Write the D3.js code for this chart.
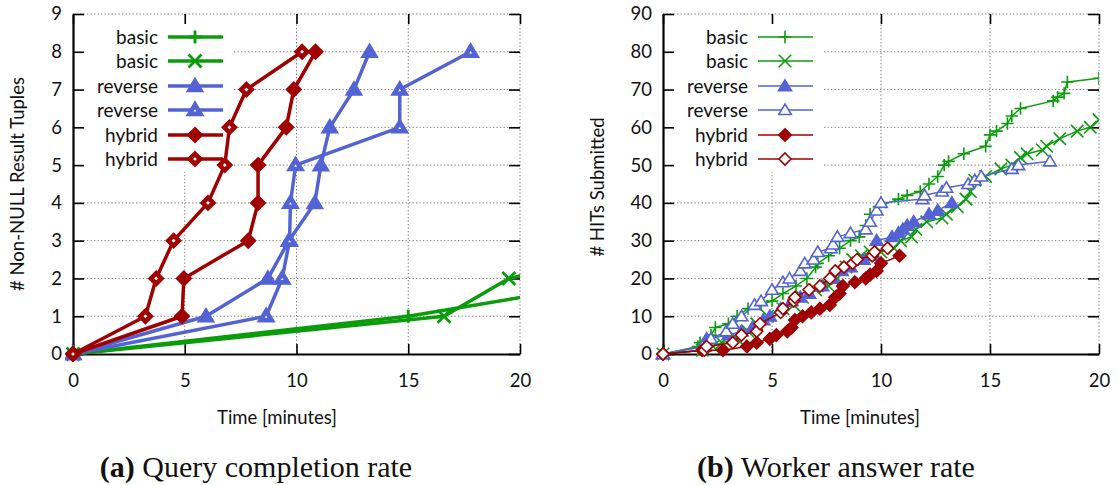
<!DOCTYPE html>
<html>
<head>
<meta charset="utf-8">
<script src="https://cdn.jsdelivr.net/npm/d3@7"></script>
<style>
  body { margin: 0; background: #fff; }
  text { font-family: Lato, "Open Sans", sans-serif; fill: #111; }
</style>
</head>
<body>
<script>
// ---- data: left panel (non-NULL tuples vs minutes) ----
var qBasicPlus   = [[0,0],[15,1],[25.1,2]];
var qBasicCross  = [[0,0],[16.6,1],[19.5,2],[27.2,3]];
var qRevFilled   = [[0,0],[5.95,1],[8.72,2],[9.66,3],[10.82,4],[11.09,5],[11.49,6],[12.57,7],[13.27,8]];
var qRevHollow   = [[0,0],[8.64,1],[9.36,2],[9.69,3],[9.73,4],[9.96,5],[14.62,6],[14.62,7],[17.79,8]];
var qHybFilled   = [[0,0],[4.88,1],[4.96,2],[7.84,3],[8.28,4],[8.28,5],[9.54,6],[9.88,7],[10.85,8]];
var qHybHollow   = [[0,0],[3.24,1],[3.72,2],[4.5,3],[6.04,4],[6.79,5],[7.0,6],[7.76,7],[10.25,8]];

// ---- data: right panel (HITs submitted vs minutes) ----
var hBasicPlus = [[0,0],[1.6,2],[1.7,3],[2.2,5],[2.4,7],[3.0,8],[3.4,10],[3.9,12],[4.5,13],[5.0,14],[5.5,16],[6.1,18],
  [6.6,20],[7.0,23],[7.1,24],[7.6,26],[8.1,28],[8.6,30],[9.0,31],[9.3,34],[9.5,37],[9.9,39],[10.8,41],[11.2,42],[11.8,43],
  [12.2,45],[12.6,47],[12.9,50],[13.1,51],[13.8,53],[14.8,55],[15.0,58],[15.3,59],[15.8,61],[16.0,63],[16.4,65],[17.9,67],
  [18.1,68],[18.4,69],[18.55,72],[20.0,73]];
var hBasicCross = [[0,0],[1.8,1],[2.3,2],[2.7,3],[3.4,4],[3.9,6],[4.3,8],[4.8,10],[5.5,12],[6.0,13],[6.4,15],[7.0,17],
  [7.6,18],[8.0,20],[8.4,23],[8.7,25],[9.1,26],[9.5,27],[10.0,27],[10.6,28],[10.9,30],[11.4,31],[11.6,33],[12.1,35],
  [12.8,36],[13.0,37],[13.5,39],[13.9,41],[14.1,43],[14.3,46],[14.8,47],[15.5,49],[16.0,50],[16.4,52],[16.7,53],[17.4,54],
  [17.6,55],[18.2,57],[19.0,59],[19.6,60],[20.0,62]];
var hRevFilled = [[0,0],[1.9,2],[2.0,4],[3.0,5],[3.6,6],[4.1,7],[4.6,9],[4.9,10],[5.4,12],[5.9,14],[6.3,15],[6.7,16],
  [7.3,18],[7.8,20],[8.2,22],[8.6,23],[9.2,25],[9.7,26],[9.8,30],[10.5,31],[10.8,32],[11.0,33],[11.2,34],[11.5,35],
  [12.2,37],[12.6,38],[13.25,40]];
var hRevHollow = [[0,0],[1.8,2],[2.2,4],[2.9,6],[3.2,8],[3.6,10],[4.2,13],[4.5,14],[5.0,17],[5.5,19],[5.8,20],[6.3,22],
  [6.5,24],[6.9,25],[7.1,27],[7.7,28],[7.8,29],[8.0,31],[8.6,32],[9.3,33],[9.5,35],[9.8,38],[10.0,40],[11.9,41],[12.0,42],
  [12.8,43],[13.0,44],[14.0,45],[14.3,46],[14.6,47],[16.0,49],[16.3,50],[17.75,51]];
var hHybFilled = [[0,0],[1.8,1],[2.75,1],[3.85,2],[4.3,3],[4.9,4],[5.2,5],[5.7,6],[5.9,7],[6.05,9],[6.4,10],[6.8,11],
  [7.2,12],[7.65,13],[7.9,15],[8.1,16],[8.25,18],[8.8,19],[9.3,20],[9.5,21],[9.8,22],[10.0,24],[10.85,26]];
var hHybHollow = [[0,0],[1.9,1],[2.0,2],[3.2,3],[3.6,5],[4.3,6],[4.45,8],[5.4,11],[5.5,12],[6.0,14],[6.05,15],[6.7,17],
  [7.2,18],[7.65,20],[7.9,22],[8.3,23],[8.7,24],[8.9,25],[9.6,26],[9.7,27],[10.3,28]];

var legendLabels = ["basic", "basic", "reverse", "reverse", "hybrid", "hybrid"];
var xTicks = [0, 5, 10, 15, 20];
var qYTicks = [0,1,2,3,4,5,6,7,8,9];
var hYTicks = [0,10,20,30,40,50,60,70,80,90];

var GREEN = "#0a9c0a", BLUE = "#5363d4", RED = "#a00000";
var styles = [
  {color: GREEN, shape: "plus",     fill: false},
  {color: GREEN, shape: "cross",    fill: false},
  {color: BLUE,  shape: "triangle", fill: true},
  {color: BLUE,  shape: "triangle", fill: false},
  {color: RED,   shape: "diamond",  fill: true},
  {color: RED,   shape: "diamond",  fill: false}
];

function markerPath(shape, s) {
  if (shape == "plus") return "M" + (-s) + ",0H" + s + "M0," + (-s) + "V" + s;
  if (shape == "cross") return "M" + (-s) + "," + (-s) + "L" + s + "," + s + "M" + (-s) + "," + s + "L" + s + "," + (-s);
  if (shape == "triangle") return "M0," + (-s) + "L" + (s*1.05) + "," + (s*0.75) + "L" + (-s*1.05) + "," + (s*0.75) + "Z";
  return "M0," + (-s) + "L" + s + ",0L0," + s + "L" + (-s) + ",0Z";
}

// stroke markers (+, x) keep the plain width; hollow shapes get the heavy outline
function markerStyle(sel, st, opt) {
  var stroked = st.shape == "plus" || st.shape == "cross";
  sel.attr("d", markerPath(st.shape, (st.fill || stroked) ? opt.ms : opt.hs))
    .style("fill", stroked ? "none" : (st.fill ? st.color : "#fff"))
    .style("stroke", st.color)
    .style("stroke-width", (st.fill || stroked) ? opt.mw : opt.hw);
}

var svg = d3.select("body").append("svg")
  .attr("width", 1119).attr("height", 485);

function drawPanel(opt) {
  var x = d3.scaleLinear().domain([0, 20]).range(opt.xr);
  var y = d3.scaleLinear().domain(opt.ydom).range([354, 14]);
  var g = svg.append("g");

  // dotted grid
  g.append("g").selectAll("line").data(opt.yTicks.slice(1)).enter().append("line")
    .attr("x1", opt.xr[0]).attr("x2", opt.xr[1])
    .attr("y1", d => y(d)).attr("y2", d => y(d))
    .style("stroke", "#777").style("stroke-width", 1).style("stroke-dasharray", "1.3,2.2");
  g.append("g").selectAll("line").data(xTicks.slice(1)).enter().append("line")
    .attr("x1", d => x(d)).attr("x2", d => x(d))
    .attr("y1", 14).attr("y2", 354)
    .style("stroke", "#777").style("stroke-width", 1).style("stroke-dasharray", "1.3,2.2");

  // legend background hides grid
  g.append("rect").attr("x", opt.xr[0] + 1).attr("y", 16)
    .attr("width", opt.legX + 37 + 37 - opt.xr[0]).attr("height", 156)
    .style("fill", "#fff");

  // axes
  var fmt = d3.format("d");
  g.append("g").attr("transform", "translate(0,354)")
    .call(d3.axisBottom(x).tickValues(xTicks).tickSizeInner(-10).tickSizeOuter(0).tickPadding(20).tickFormat(fmt));
  g.append("g").attr("transform", "translate(0,14)")
    .call(d3.axisTop(x).tickValues(xTicks).tickSizeInner(-10).tickSizeOuter(0).tickFormat(""))
    .select(".domain").remove();
  g.append("g").attr("transform", "translate(" + opt.xr[0] + ",0)")
    .call(d3.axisLeft(y).tickValues(opt.yTicks).tickSizeInner(-11).tickSizeOuter(0).tickPadding(11).tickFormat(fmt));
  g.append("g").attr("transform", "translate(" + opt.xr[1] + ",0)")
    .call(d3.axisRight(y).tickValues(opt.yTicks).tickSizeInner(-11).tickSizeOuter(0).tickFormat(""))
    .select(".domain").remove();
  g.selectAll(".domain").style("stroke", "#000").style("stroke-width", 2.2);
  g.selectAll(".tick line").style("stroke", "#000").style("stroke-width", 1.6);
  g.selectAll(".tick text").style("font-family", "Lato, sans-serif").style("font-size", "18.5px").style("fill", "#111");

  // series
  var clipId = "clip" + opt.id;
  svg.append("clipPath").attr("id", clipId).append("rect")
    .attr("x", opt.xr[0] - 8).attr("y", 6).attr("width", opt.xr[1] - opt.xr[0] + 8).attr("height", 356);
  var plot = g.append("g").attr("clip-path", "url(#" + clipId + ")");
  var line = d3.line().x(d => x(d[0])).y(d => y(d[1]));
  opt.series.forEach(function(data, i) {
    var st = styles[i];
    plot.append("path").datum(data).attr("d", line)
      .style("fill", "none").style("stroke", st.color).style("stroke-width", opt.lw)
      .style("stroke-linejoin", "round");
    plot.append("g").selectAll("path").data(data).enter().append("path")
      .attr("transform", d => "translate(" + x(d[0]) + "," + y(d[1]) + ")")
      .call(markerStyle, st, opt);
  });

  // legend
  var rows = [37, 61, 86, 110, 135, 159];
  legendLabels.forEach(function(lab, i) {
    var st = styles[i];
    g.append("text").attr("x", opt.legX).attr("y", rows[i]).attr("dy", "0.35em")
      .attr("text-anchor", "end").style("font-size", "19px").text(lab);
    g.append("line").attr("x1", opt.legX + 10).attr("x2", opt.legX + 65)
      .attr("y1", rows[i]).attr("y2", rows[i])
      .style("stroke", st.color).style("stroke-width", opt.lw);
    g.append("path").attr("transform", "translate(" + (opt.legX + 37) + "," + rows[i] + ")")
      .call(markerStyle, st, opt);
  });

  // axis titles and caption
  g.append("text").attr("x", opt.xTitleX).attr("y", 424).attr("text-anchor", "middle")
    .style("font-size", "18.5px").text("Time [minutes]");
  g.append("text").attr("transform", "translate(" + opt.yTitleX + "," + opt.yTitleY + ") rotate(-90)")
    .attr("text-anchor", "middle").style("font-size", "18.5px").text(opt.yTitle);
  var cap = g.append("text").attr("x", opt.capX).attr("y", 477).attr("text-anchor", "middle")
    .style("font-family", "'Liberation Serif', 'DejaVu Serif', serif").style("font-size", "30px");
  cap.append("tspan").style("font-weight", "bold").text(opt.capTag);
  cap.append("tspan").text(" " + opt.capText);
}

drawPanel({
  id: "a", xr: [73, 520], ydom: [0, 9], yTicks: qYTicks,
  series: [qBasicPlus, qBasicCross, qRevFilled, qRevHollow, qHybFilled, qHybHollow],
  lw: 3.5, ms: 6.5, mw: 2.8, hs: 5.2, hw: 4.6, legX: 158,
  xTitleX: 277, yTitleX: 24, yTitleY: 184, yTitle: "# Non-NULL Result Tuples",
  capX: 256, capTag: "(a)", capText: "Query completion rate"
});
drawPanel({
  id: "b", xr: [663, 1099], ydom: [0, 90], yTicks: hYTicks,
  series: [hBasicPlus, hBasicCross, hRevFilled, hRevHollow, hHybFilled, hHybHollow],
  lw: 1.5, ms: 6.2, mw: 1.6, hs: 6, hw: 1.6, legX: 748,
  xTitleX: 860, yTitleX: 604, yTitleY: 187, yTitle: "# HITs Submitted",
  capX: 836, capTag: "(b)", capText: "Worker answer rate"
});
</script>
</body>
</html>
